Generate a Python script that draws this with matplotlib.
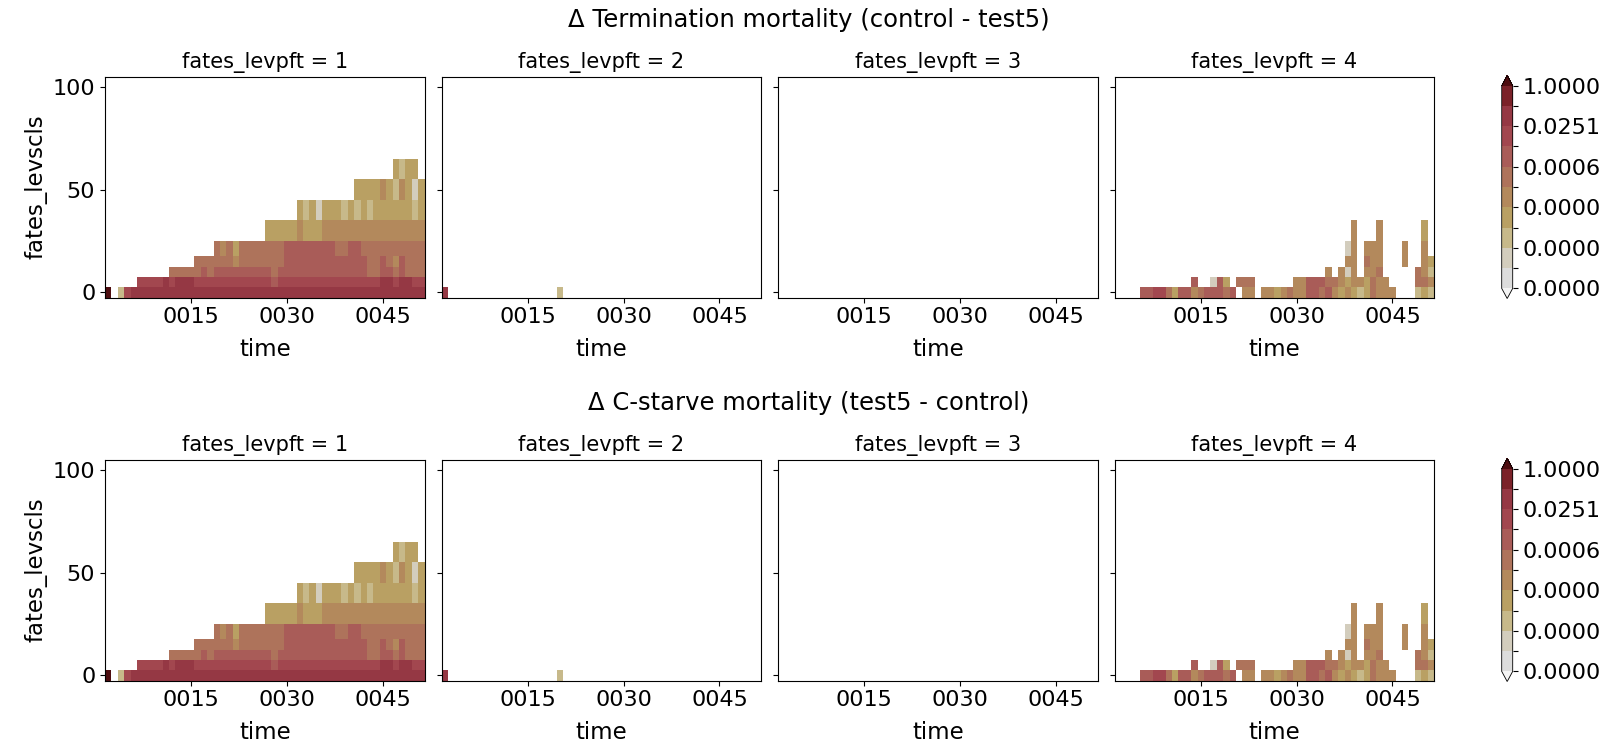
"""Faceted difference maps of FATES mortality by size class and PFT."""

import matplotlib
matplotlib.use("Agg")
import matplotlib.pyplot as plt
import numpy as np
from matplotlib.colors import ListedColormap, BoundaryNorm

# ---- data -----------------------------------------------------------------
YEARS = list(range(2, 52))
SIZE_CLASSES = [0, 5, 10, 15, 20, 30, 40, 50, 60, 70, 80, 90, 100]
PFTS = [1, 2, 3, 4]
TIME_TICKS = [15, 30, 45]
TIME_LABELS = ["0015", "0030", "0045"]
LEVELS = np.logspace(-8, 0, 11)

TITLES = [
    "\u0394 Termination mortality (control - test5)",
    "\u0394 C-starve mortality (test5 - control)",
]

# one string per size class (bottom first), one char per year 0002..0051,
# in groups of ten years: digit = colour-level bin, X = above top level, . = no data
PFT1_ROWS = [
    "X.27888888 8888888888 8888888888 8888888888 8888888888",
    ".....77778 7888777777 7777776777 7777777777 7778878877",
    ".......... 5555565666 6666665666 6666666666 6556656555",
    ".......... ....555555 4555555566 6666666666 6556546555",
    ".......... .......545 3555555566 6666665566 5555555555",
    ".......... .......... .....33333 4333444444 4444444444",
    ".......... .......... .......... 3231333232 3233333323",
    ".......... .......... .......... .........3 3334324313",
    ".......... .......... .......... .......... .....3233.",
]
PFT2_ROWS = [
    "8......... ........2. .......... .......... ..........",
]
PFT3_ROWS = []
PFT4_ROWS = [
    "....667753 664566656. 44.4434544 6656434323 5444...232",
    ".......... ..6..163.5 55......44 6665543443 544....554",
    ".......... .......... .......... ...4.414.4 45.....542",
    ".......... .......... .......... ......44.5 44...4..43",
    ".......... .......... .......... ......14.4 44...4..4.",
    ".......... .......... .......... .......4.. .4......3.",
]

BAND_COLORS = ["#dcdcdc", "#d3cdbd", "#c7b98a", "#b9a063", "#b3895c",
               "#ae735b", "#a95c58", "#a2474f", "#953844", "#7b2229"]


def decode(rows):
    """Turn the level strings into a (size class x year) value grid."""
    grid = np.full((len(SIZE_CLASSES), len(YEARS)), np.nan)
    for r, row in enumerate(rows):
        row = row.replace(" ", "")
        assert len(row) == len(YEARS), (r, len(row))
        for c, ch in enumerate(row):
            if ch == "X":
                grid[r, c] = 2.0
            elif ch != ".":
                k = int(ch)
                grid[r, c] = np.sqrt(LEVELS[k] * LEVELS[k + 1])
    return grid


panels = [decode(PFT1_ROWS), decode(PFT2_ROWS), decode(PFT3_ROWS), decode(PFT4_ROWS)]

cmap = ListedColormap(BAND_COLORS)
cmap.set_over("#4e0d10")
cmap.set_under("#f4f4f4")
cmap.set_bad((1, 1, 1, 0))
norm = BoundaryNorm(LEVELS, cmap.N)

# ---- figure ---------------------------------------------------------------
W, H = 1617, 745
fig = plt.figure(figsize=(W / 100, H / 100), dpi=100)

lefts = [105, 441.5, 778, 1114.5]
pw = 319.5
rows_px = [(76.5, 297.5), (459.5, 680.5)]
title_y = [20, 403]

for ri, (top, bot) in enumerate(rows_px):
    fig.text(0.5, 1 - title_y[ri] / H, TITLES[ri], ha="center", va="center",
             fontsize=17.5)
    for pi, pft in enumerate(PFTS):
        ax = fig.add_axes([lefts[pi] / W, 1 - bot / H, pw / W, (bot - top) / H])
        mesh = ax.pcolormesh(YEARS, SIZE_CLASSES, panels[pi], cmap=cmap,
                             norm=norm, shading="nearest")
        ax.set_xlim(1.5, 51.5)
        ax.set_ylim(-2.5, 105)
        ax.set_xticks(TIME_TICKS)
        ax.set_xticklabels(TIME_LABELS)
        ax.set_yticks([0, 50, 100])
        ax.tick_params(labelsize=16)
        ax.set_xlabel("time", fontsize=16.5, labelpad=8)
        if pi == 0:
            ax.set_ylabel("fates_levscls", fontsize=16.5)
        else:
            ax.set_yticklabels([])
        ax.set_title(f"fates_levpft = {pft}", fontsize=15)

    cax = fig.add_axes([1501.7 / W, 1 - (bot + 1) / H, 11 / W, (bot - top + 2) / H])
    cb = fig.colorbar(mesh, cax=cax, extend="both", ticks=LEVELS)
    cb.ax.set_yticklabels([f"{v:.4f}" if i % 2 == 0 else "" for i, v in enumerate(LEVELS)])
    cb.ax.tick_params(labelsize=16)
    cb.outline.set_linewidth(0.6)

fig.savefig("out.png", dpi=100)
